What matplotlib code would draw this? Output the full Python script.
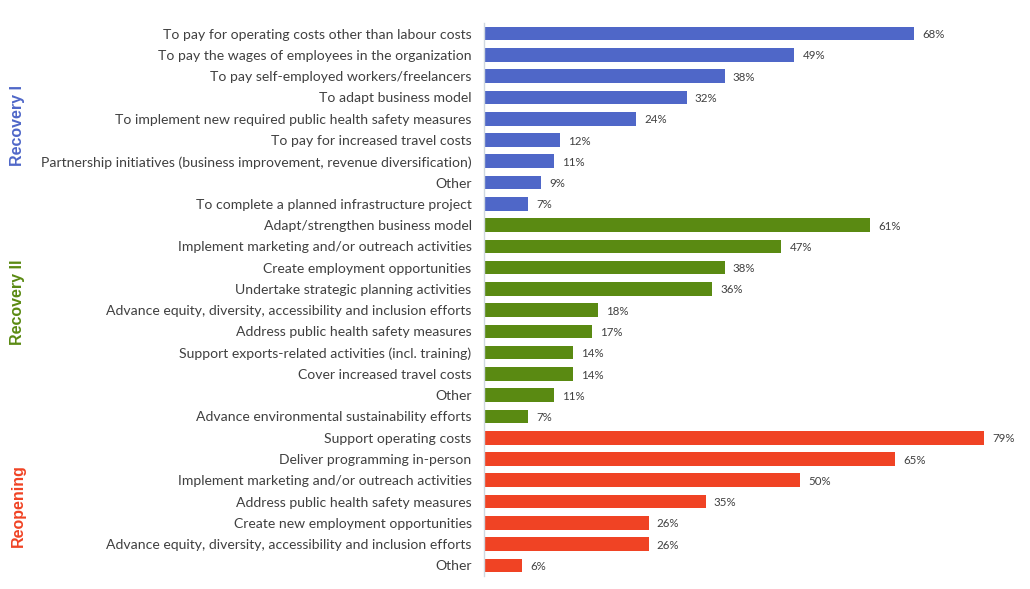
import numpy as np
import matplotlib.pyplot as plt

plt.rcParams['font.family'] = ['Lato', 'DejaVu Sans']

# Data
recovery1_labels = [
    "To pay for operating costs other than labour costs",
    "To pay the wages of employees in the organization",
    "To pay self-employed workers/freelancers",
    "To adapt business model",
    "To implement new required public health safety measures",
    "To pay for increased travel costs",
    "Partnership initiatives (business improvement, revenue diversification)",
    "Other",
    "To complete a planned infrastructure project",
]
recovery1_values = [68, 49, 38, 32, 24, 12, 11, 9, 7]

recovery2_labels = [
    "Adapt/strengthen business model",
    "Implement marketing and/or outreach activities",
    "Create employment opportunities",
    "Undertake strategic planning activities",
    "Advance equity, diversity, accessibility and inclusion efforts",
    "Address public health safety measures",
    "Support exports-related activities (incl. training)",
    "Cover increased travel costs",
    "Other",
    "Advance environmental sustainability efforts",
]
recovery2_values = [61, 47, 38, 36, 18, 17, 14, 14, 11, 7]

reopening_labels = [
    "Support operating costs",
    "Deliver programming in-person",
    "Implement marketing and/or outreach activities",
    "Address public health safety measures",
    "Create new employment opportunities",
    "Advance equity, diversity, accessibility and inclusion efforts",
    "Other",
]
reopening_values = [79, 65, 50, 35, 26, 26, 6]

blue = '#4F67C8'
green = '#5A8A12'
red = '#F04324'

labels = recovery1_labels + recovery2_labels + reopening_labels
values = recovery1_values + recovery2_values + reopening_values
colors = ([blue] * len(recovery1_values) + [green] * len(recovery2_values)
          + [red] * len(reopening_values))

W, H = 1030, 589
fig = plt.figure(figsize=(W / 100, H / 100), dpi=100)
ax = fig.add_axes([484 / W, 1 - 576 / H, 538 / W, 553 / H])

y = np.arange(len(values))
ax.barh(y, values, height=0.64, color=colors)
ax.set_ylim(len(values) - 0.5, -0.5)
ax.set_xlim(0, 85)

ax.set_yticks(y)
ax.set_yticklabels(labels, fontsize=10.1, color='#404040')
ax.tick_params(axis='y', length=0, pad=9)
ax.set_xticks([])
for s in ['top', 'right', 'bottom']:
    ax.spines[s].set_visible(False)
ax.spines['left'].set_color('#D0D8E0')
ax.spines['left'].set_linewidth(1)

for yi, v in zip(y, values):
    ax.text(v + 1.3, yi + 0.05, f"{v}%", va='center', ha='left', fontsize=8.3, color='#404040')

fig.text(18 / W, 1 - 125 / H, "Recovery I", rotation=90, ha='center', va='center',
         fontsize=11.5, fontweight='bold', color=blue, family='Liberation Sans')
fig.text(18 / W, 1 - 302 / H, "Recovery II", rotation=90, ha='center', va='center',
         fontsize=11.5, fontweight='bold', color=green, family='Liberation Sans')
fig.text(18 / W, 1 - 506 / H, "Reopening", rotation=90, ha='center', va='center',
         fontsize=11.5, fontweight='bold', color=red, family='Liberation Sans')

fig.savefig('out.png', dpi=100)
